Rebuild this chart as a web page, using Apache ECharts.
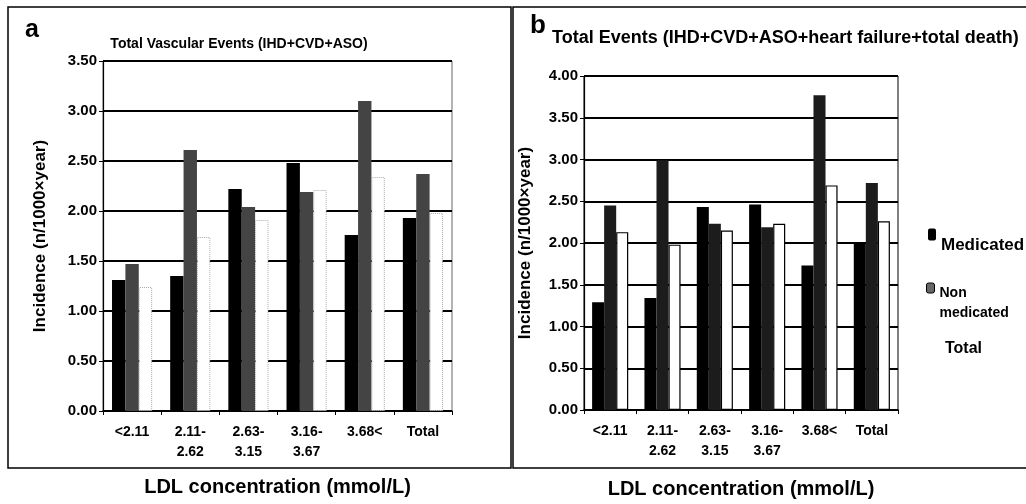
<!DOCTYPE html>
<html>
<head>
<meta charset="utf-8">
<script src="https://cdn.jsdelivr.net/npm/echarts@6/dist/echarts.min.js"></script>
<style>
html,body{margin:0;padding:0;background:#fff;}
#chart{width:1026px;height:504px;}
</style>
</head>
<body>
<div id="chart"></div>
<script>
// ---- data ----
const categories = ['<2.11', '2.11-\n2.62', '2.63-\n3.15', '3.16-\n3.67', '3.68<', 'Total'];
const seriesNames = ['Medicated', 'Non medicated', 'Total'];
// Panel a: Total Vascular Events (IHD+CVD+ASO)
const medicatedA    = [1.31, 1.35, 2.22, 2.48, 1.76, 1.93];
const nonMedicatedA = [1.47, 2.61, 2.04, 2.19, 3.10, 2.37];
const totalA        = [1.24, 1.74, 1.91, 2.21, 2.34, 1.98];
// Panel b: Total Events (IHD+CVD+ASO+heart failure+total death)
const medicatedB    = [1.29, 1.34, 2.43, 2.46, 1.73, 1.99];
const nonMedicatedB = [2.45, 2.99, 2.23, 2.19, 3.77, 2.72];
const totalB        = [2.13, 1.98, 2.15, 2.23, 2.69, 2.26];
const yMaxA = 3.5, yMaxB = 4.0, yStep = 0.5;

const FONT = '"Liberation Sans", Arial, sans-serif';
const chart = echarts.init(document.getElementById('chart'), null, {renderer: 'canvas'});

function xAxisDef(gridIndex, nameGap) {
  return {
    type: 'category', gridIndex: gridIndex, data: categories,
    name: 'LDL concentration (mmol/L)', nameLocation: 'middle', nameGap: nameGap,
    nameTextStyle: {fontFamily: FONT, fontWeight: 'bold', fontSize: 20, color: '#000'},
    axisLine: {lineStyle: {color: '#000', width: 1.5}},
    axisTick: {show: true, length: 4, lineStyle: {color: '#000'}},
    axisLabel: {interval: 0, fontFamily: FONT, fontWeight: 'bold', fontSize: 14, color: '#000', lineHeight: 20, margin: 11}
  };
}
function yAxisDef(gridIndex, max, nameGap, splitW) {
  return {
    type: 'value', gridIndex: gridIndex, min: 0, max: max, interval: yStep,
    name: 'Incidence (n/1000×year)', nameLocation: 'middle', nameGap: nameGap, nameRotate: 90,
    nameTextStyle: {fontFamily: FONT, fontWeight: 'bold', fontSize: 17, color: '#000'},
    axisLine: {show: true, lineStyle: {color: '#000', width: 1.2}},
    axisTick: {show: true, length: 4, lineStyle: {color: '#000'}},
    axisLabel: {fontFamily: FONT, fontWeight: 'bold', fontSize: 15, color: '#000', margin: 6,
      formatter: v => v.toFixed(2)},
    splitLine: {show: true, lineStyle: {color: '#000', width: splitW}}
  };
}
function bar(name, data, idx, style) {
  return {name: name, type: 'bar', xAxisIndex: idx, yAxisIndex: idx, data: data,
    barGap: '0%', barCategoryGap: '31%', itemStyle: style, silent: true};
}

const legendText = {fontFamily: FONT, fontWeight: 'bold', color: '#000'};

const option = {
  animation: false,
  backgroundColor: '#fff',
  graphic: [
    {type: 'rect', shape: {x: 8, y: 7, width: 503, height: 461}, style: {fill: 'none', stroke: '#000', lineWidth: 1.5}},
    {type: 'rect', shape: {x: 513, y: 7, width: 515, height: 461}, style: {fill: 'none', stroke: '#000', lineWidth: 1.5}}
  ],
  title: [
    {text: 'a', left: 20, top: 13, textStyle: {fontFamily: FONT, fontWeight: 'bold', fontSize: 25, color: '#000'}},
    {text: 'Total Vascular Events (IHD+CVD+ASO)', left: 234, top: 32, textAlign: 'center',
      textStyle: {fontFamily: FONT, fontWeight: 'bold', fontSize: 14, color: '#000'}},
    {text: 'b', left: 525, top: 8, textStyle: {fontFamily: FONT, fontWeight: 'bold', fontSize: 26, color: '#000'}},
    {text: 'Total Events (IHD+CVD+ASO+heart failure+total death)', left: 547, top: 24,
      textStyle: {fontFamily: FONT, fontWeight: 'bold', fontSize: 18, color: '#000'}}
  ],
  legend: [
    {data: ['Medicated'], orient: 'vertical', left: 928, top: 215, padding: 0, itemWidth: 8, itemHeight: 12,
      selectedMode: false, formatter: n => '{m|' + n + '}',
      textStyle: Object.assign({}, legendText, {rich: {m: Object.assign({}, legendText, {fontSize: 17, lineHeight: 20, padding: [22, 0, 0, 0]})}})},
    {data: ['Non medicated'], orient: 'vertical', left: 926, top: 253, padding: 0, itemWidth: 8, itemHeight: 10,
      selectedMode: false, formatter: () => '{p|}\n{n|Non}\n{n|medicated}',
      itemStyle: {color: '#666', borderColor: '#000', borderWidth: 1},
      textStyle: Object.assign({}, legendText, {rich: {
        p: {height: 30, lineHeight: 30},
        n: Object.assign({}, legendText, {fontSize: 14, lineHeight: 20})}})},
    {data: ['Total'], orient: 'vertical', left: 931, top: 339, padding: 0, itemWidth: 8, itemHeight: 10,
      selectedMode: false, itemStyle: {opacity: 0},
      textStyle: Object.assign({}, legendText, {fontSize: 16, lineHeight: 20})}
  ],
  grid: [
    {left: 103, top: 61, width: 349, height: 350, show: true, borderColor: '#666', borderWidth: 1},
    {left: 584, top: 76, width: 314, height: 336, show: true, borderColor: '#000', borderWidth: 1}
  ],
  xAxis: [xAxisDef(0, 66), xAxisDef(1, 69)],
  yAxis: [yAxisDef(0, yMaxA, 54, 2), yAxisDef(1, yMaxB, 50, 1.8)],
  series: [
    bar(seriesNames[0], medicatedA, 0, {color: '#000'}),
    bar(seriesNames[1], nonMedicatedA, 0, {color: '#444'}),
    bar(seriesNames[2], totalA, 0, {color: '#fff', borderColor: '#aaa', borderWidth: 1, borderType: 'dotted'}),
    bar(seriesNames[0], medicatedB, 1, {color: '#000'}),
    bar(seriesNames[1], nonMedicatedB, 1, {color: '#1c1c1c'}),
    bar(seriesNames[2], totalB, 1, {color: '#fff', borderColor: '#000', borderWidth: 1.2})
  ]
};
chart.setOption(option);
</script>
</body>
</html>
